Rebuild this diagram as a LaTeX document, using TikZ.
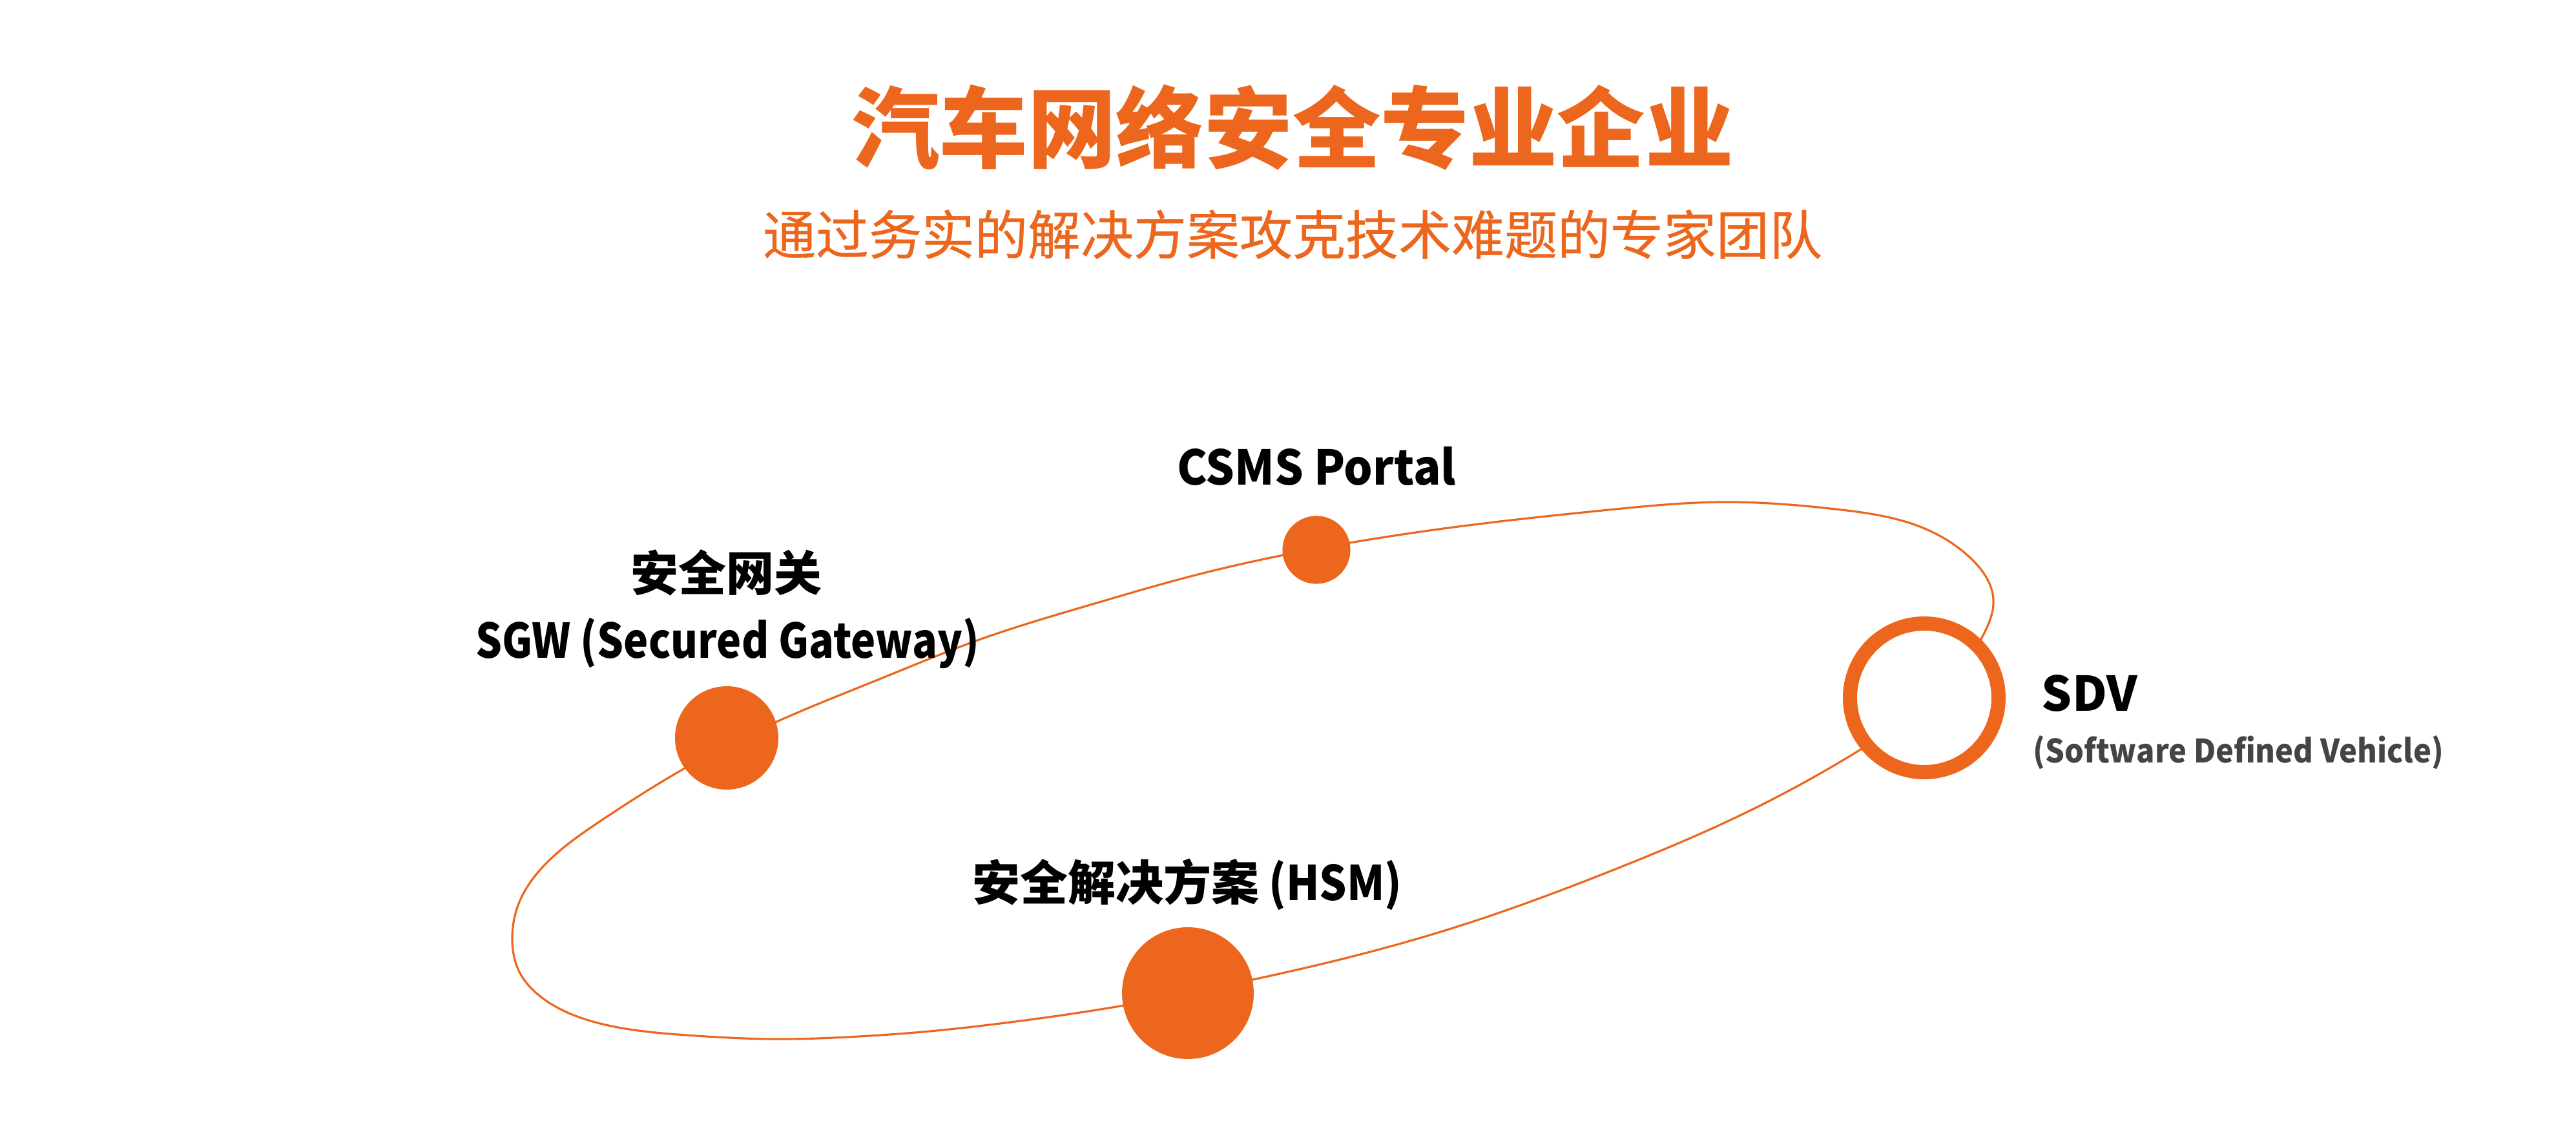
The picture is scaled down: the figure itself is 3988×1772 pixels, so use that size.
\documentclass[tikz,border=0pt]{standalone}
\usepackage{fontspec}
\usepackage{graphicx}
\usetikzlibrary{hobby}
\setmainfont{Noto Sans CJK SC}
\definecolor{brand}{RGB}{236,103,29}
\definecolor{subgrey}{RGB}{68,68,68}
\begin{document}
\begin{tikzpicture}[x=0.25pt,y=-0.25pt,
  txt/.style={inner sep=0pt, anchor=base},
  lbl/.style={txt, font=\fontsize{18.5}{22}\selectfont\bfseries, text=black},
  dot/.style={circle, fill=brand, inner sep=0pt},
  orbit/.style={draw=brand, line width=0.8pt}]
\useasboundingbox (0,0) rectangle (3988,1772);
% orbit path (both ends hidden under the SDV ring)
\draw[orbit, use Hobby shortcut]
  (3040,1040) .. (3066,991) .. (3086,928) .. (3052,865) .. (2982,819) ..
  (2842,788) .. (2666,777) .. (2491,789) .. (2281,812) .. (2090,840) ..
  (1847,891) .. (1688,936) .. (1516,990) .. (1369,1048) .. (1200,1118) ..
  (1060,1189) .. (929,1271) .. (839,1343) .. (804,1396) .. (793,1455) ..
  (804,1504) .. (839,1544) .. (929,1584) .. (1063,1602) .. (1196,1608) ..
  (1330,1604) .. (1450,1595) .. (1548,1584) .. (1740,1556) .. (1940,1516) ..
  (2050,1491) .. (2281,1426) .. (2491,1349) .. (2702,1258) .. (2882,1159) ..
  (2950,1115);
% points on the orbit
\node[dot, minimum size=26.3pt] (csms) at (2038,851) {};
\node[dot, minimum size=40pt] (sgw) at (1125,1142) {};
\node[dot, minimum size=51pt] (hsm) at (1839,1537) {};
\node[circle, draw=brand, line width=5.5pt, fill=white, inner sep=0pt, minimum size=57.5pt] (sdv) at (2979,1080) {};
% headings
\node[txt, font=\fontsize{34.15}{40}\selectfont\bfseries, text=brand] (title) at (2001,250) {汽车网络安全专业企业};
\node[txt, font=\fontsize{20.5}{24}\selectfont\addfontfeature{FakeBold=0.5}, text=brand] (subtitle) at (2001,394) {通过务实的解决方案攻克技术难题的专家团队};
% labels
\node[lbl] (csmslbl) at (2038,751) {\scalebox{0.95}[1]{CSMS Portal}};
\node[lbl] (sgwcn) at (1124,915) {安全网关};
\node[lbl] (sgwen) at (1126,1019) {\scalebox{0.87}[1]{SGW (Secured Gateway)}};
\node[lbl] (hsmlbl) at (1838,1394) {安全解决方案\scalebox{0.9}[1]{ (HSM)}};
\node[lbl, anchor=base west] (sdvlbl) at (3160,1101) {SDV};
\node[txt, anchor=base west, font=\fontsize{12.5}{15}\selectfont\bfseries, text=subgrey] (sdvsub) at (3147,1181) {\scalebox{0.94}[1]{(Software Defined Vehicle)}};
\end{tikzpicture}
\end{document}
